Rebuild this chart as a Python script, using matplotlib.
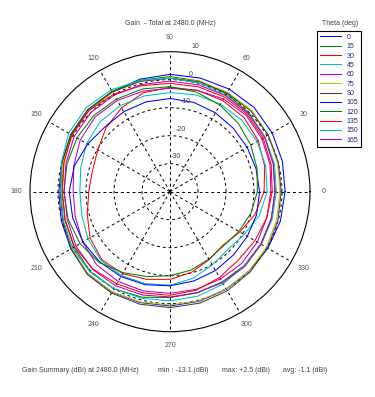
import numpy as np
import matplotlib
matplotlib.use('Agg')
import matplotlib.pyplot as plt

plt.rcParams['font.family'] = ['Liberation Sans', 'DejaVu Sans']

# phi angles (deg) of the samples
phi = [0, 15, 30, 45, 60, 75, 90, 105, 120, 135, 150, 165,
       180, 195, 210, 225, 240, 255, 270, 285, 300, 315, 330, 345]

# gain (dBi) for each theta cut
g0 = [1.1, 1.6, 2.1, 2.5, 2.3, 2.0, 1.9, 1.6, 1.2, 1.0, 0.6, 0.0,
      -0.3, 0.2, 0.9, 1.5, 1.4, 1.0, 0.8, 0.5, 0.2, 0.0, 0.4, 0.8]
g15 = [-2.5, -1.8, -0.9, -0.2, 0.4, 0.9, 1.1, 1.2, 1.4, 1.5, 0.8, -0.6,
       -1.5, -1.2, -0.4, 0.3, 0.0, -1.0, -2.2, -2.6, -2.8, -2.6, -2.6, -2.6]
g30 = [-6.4, -5.0, -3.6, -2.6, -2.4, -2.5, -2.7, -3.4, -5.4, -7.7, -10.2, -11.3,
       -11.0, -9.4, -7.0, -5.6, -6.2, -7.6, -8.7, -10.2, -12.0, -13.1, -11.2, -8.6]
g45 = [-5.3, -4.6, -4.1, -3.8, -3.9, -4.2, -4.6, -4.6, -4.5, -4.7, -5.6, -7.0,
       -7.8, -7.4, -6.2, -5.2, -5.4, -6.0, -6.6, -8.0, -9.8, -10.8, -9.4, -7.0]
g60 = [-4.0, -3.0, -2.1, -1.5, -1.8, -2.5, -3.1, -2.8, -2.4, -2.2, -3.0, -4.4,
       -5.4, -5.0, -4.0, -3.0, -3.0, -3.3, -3.7, -3.9, -4.0, -3.8, -4.0, -4.2]
g75 = [-0.7, -0.2, 0.5, 1.2, 1.0, 0.8, 0.7, 0.9, 1.0, 1.0, 0.4, -0.4,
       -1.0, -0.5, 0.5, 1.5, 1.3, 0.8, 0.5, 0.3, 0.1, 0.0, -0.3, -0.6]
g90 = [-0.3, 0.1, 0.5, 0.8, 0.7, 0.6, 0.5, 0.8, 1.2, 1.5, 1.0, 0.0,
       -0.8, -0.3, 0.8, 1.8, 1.8, 1.6, 1.4, 1.2, 0.9, 0.5, 0.2, -0.1]
g105 = [-8.0, -8.2, -8.2, -8.0, -7.5, -7.0, -6.7, -6.8, -7.0, -7.2, -6.0, -4.6,
        -4.0, -4.0, -4.1, -4.5, -5.0, -5.6, -6.4, -7.0, -7.5, -8.0, -8.1, -8.0]
g120 = [-8.8, -7.8, -6.7, -5.5, -4.3, -3.2, -2.5, -2.0, -1.8, -1.5, -1.6, -1.9,
        -2.1, -2.3, -2.9, -4.2, -6.6, -8.6, -10.0, -11.0, -12.2, -12.8, -11.6, -10.1]
g135 = [-3.5, -2.6, -1.6, -1.0, -1.0, -1.2, -1.3, -0.8, 0.2, 1.0, 0.5, -0.8,
        -1.5, -1.2, -0.6, -1.0, -2.0, -2.6, -3.0, -3.6, -4.6, -5.5, -5.0, -4.2]
g150 = [-2.0, -1.4, -0.9, -0.5, -0.2, 0.2, 0.5, 1.2, 2.0, 2.4, 1.8, 0.2,
        -1.0, -0.6, 0.2, 0.5, 0.0, -0.6, -1.0, -1.4, -2.0, -2.5, -2.4, -2.2]
g165 = [-2.5, -1.8, -1.0, -0.5, -0.4, -0.5, -0.5, -0.4, -0.2, 0.0, -0.5, -1.5,
        -2.2, -2.0, -1.2, -0.8, -1.2, -1.8, -2.4, -2.6, -2.5, -2.2, -2.4, -2.5]

thetas = ['0', '15', '30', '45', '60', '75', '90', '105', '120', '135', '150', '165']
colors = ['#0000ff', '#008000', '#ff0000', '#00bfbf', '#bf00bf', '#bfbf00', '#404040',
          '#0000ff', '#008000', '#ff0000', '#00bfbf', '#bf00bf']
cuts = [g0, g15, g30, g45, g60, g75, g90, g105, g120, g135, g150, g165]

rings = [-30, -20, -10, 0, 10]

fig = plt.figure(figsize=(3.75, 3.97), dpi=100)
ax = fig.add_axes([0.08, 0.1645, 0.7467, 0.7053], projection='polar')
ax.set_ylim(-40, 10)

ang = np.deg2rad(phi + [phi[0]])
for lab, col, g in zip(thetas, colors, cuts):
    ax.plot(ang, g + [g[0]], color=col, lw=0.75, label=lab)

ax.set_thetagrids(range(0, 360, 30), [str(a) for a in range(0, 360, 30)],
                  fontsize=5, color='#505050')
ax.tick_params(axis='x', pad=-0.5)
ax.set_rgrids(rings[:-1], labels=['' for r in rings[:-1]])
ax.grid(True, color='k', linestyle=(0, (3, 3)), linewidth=0.7)
ax.spines['polar'].set_linewidth(0.8)
ax.spines['polar'].set_color('k')
for r in rings:
    ax.text(np.deg2rad(80), r + 2.6, str(r), fontsize=5, color='#404040',
            ha='center', va='center', clip_on=False)

leg = fig.legend(loc='upper left', bbox_to_anchor=(0.845, 0.9227), fontsize=5,
                 handlelength=3.0, labelspacing=0.34, borderpad=0.45,
                 borderaxespad=0, handletextpad=0.8, fancybox=False,
                 framealpha=1, edgecolor='k')
leg.get_frame().set_linewidth(0.8)
for t in leg.get_texts():
    t.set_color('#202080')

fig.text(0.4533, 0.942, 'Gain  - Total at 2480.0 (MHz)', fontsize=5,
         color='#404040', ha='center', va='center')
fig.text(0.9067, 0.942, 'Theta (deg)', fontsize=5, color='#404040',
         ha='center', va='center')

fig.text(0.0587, 0.068, 'Gain Summary (dBi) at 2480.0 (MHz)', fontsize=5,
         color='#404040', va='center')
fig.text(0.4213, 0.068, 'min : -13.1 (dBi)', fontsize=5, color='#404040', va='center')
fig.text(0.592, 0.068, 'max: +2.5 (dBi)', fontsize=5, color='#404040', va='center')
fig.text(0.7547, 0.068, 'avg: -1.1 (dBi)', fontsize=5, color='#404040', va='center')

fig.savefig('out.png', dpi=100)
